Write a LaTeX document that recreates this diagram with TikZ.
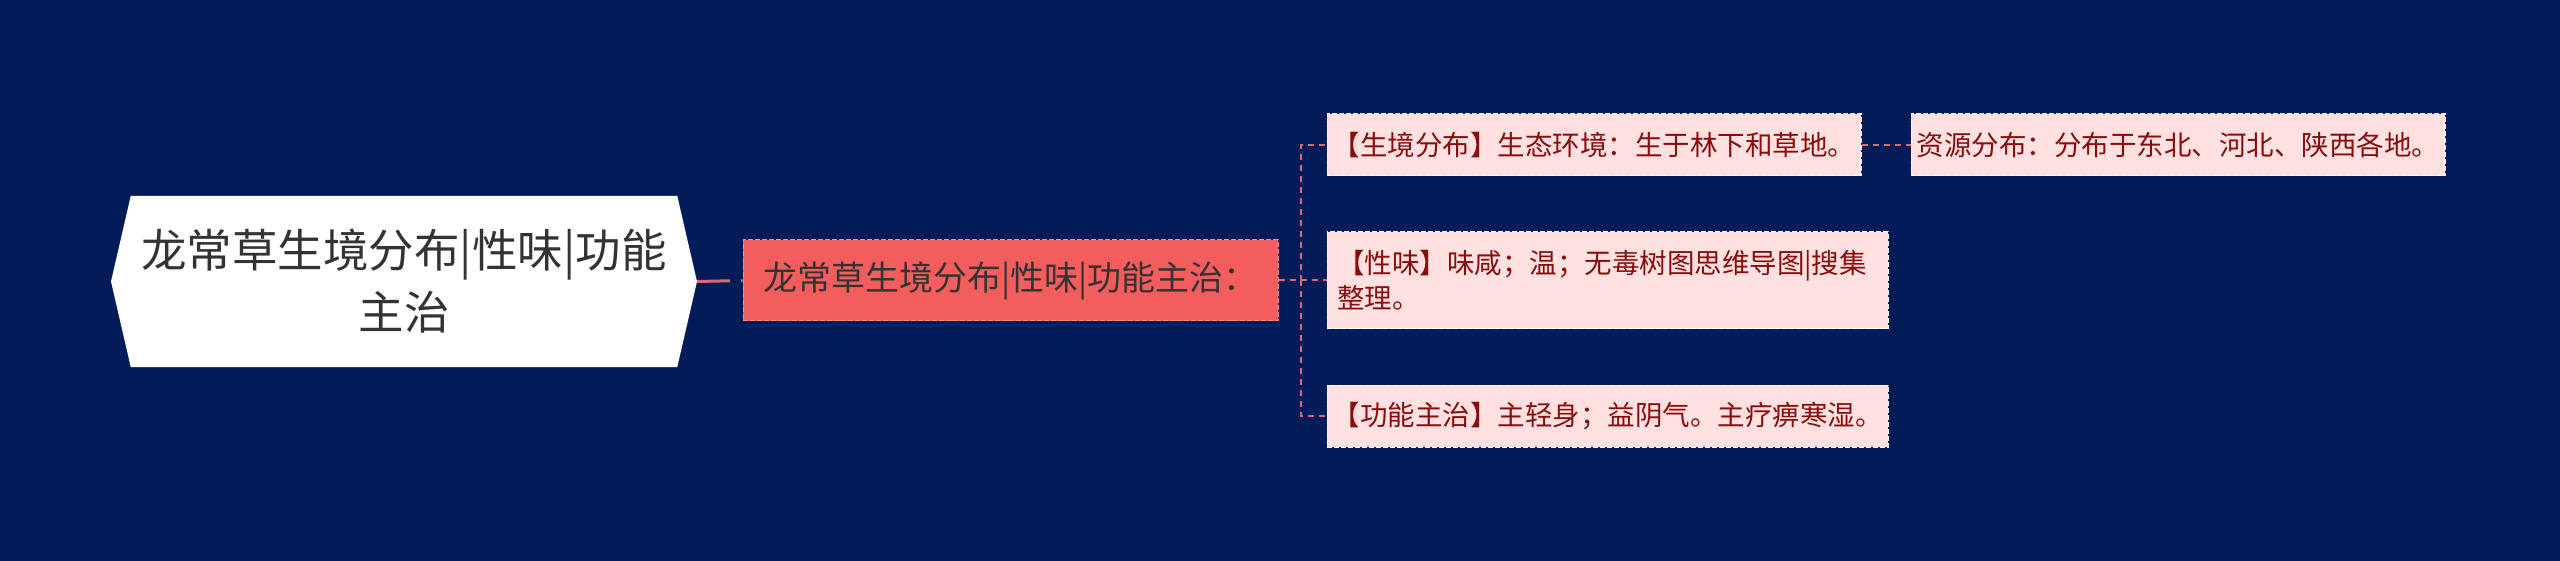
\documentclass[tikz,border=0pt]{standalone}
\usepackage{fontspec}
\newfontfamily\cjk{Noto Sans CJK SC}
\usepackage{tikz}
\usetikzlibrary{calc, positioning, shapes.symbols}
\definecolor{navy}{HTML}{021C59}
\definecolor{midfill}{HTML}{F45D5E}
\definecolor{leaffill}{HTML}{FFE1E1}
\definecolor{linkred}{HTML}{E3656F}
\definecolor{leaftext}{HTML}{8A0C0C}

\begin{document}
\begin{tikzpicture}[x=1pt, y=-1pt,
    rootbox/.style={shape=signal, signal to=east and west, signal pointer angle=154,
      fill=white, minimum width=586pt, minimum height=171pt, inner sep=0pt,
      align=center, text=black!80, font=\cjk\fontsize{45.5}{62}\selectfont},
    midbox/.style={fill=midfill, draw=midfill!70!white, dash pattern=on 5pt off 2pt,
      line width=1pt, minimum width=535pt, minimum height=81pt, inner xsep=4pt,
      text=black!80, font=\cjk\fontsize{34}{40}\selectfont},
    leafbox/.style={fill=leaffill, draw=white, dash pattern=on 5pt off 2pt,
      line width=1pt, minimum width=534pt, minimum height=62pt, inner xsep=4pt,
      text=leaftext, font=\cjk\fontsize{27.5}{35}\selectfont},
    link/.style={linkred, line width=2pt, dash pattern=on 6pt off 5pt},
    rootlink/.style={linkred, line width=3pt, dash pattern=on 33pt off 11pt on 40pt off 5pt}]
  % background and frame of the page
  \fill[navy] (0,0) rectangle (2560,561);
  % main topic and first level
  \node[rootbox] (root) at (404,281.5) {龙常草生境分布|性味|功能\\主治};
  \node[midbox] (mid) at (1010.5,280.5) {龙常草生境分布|性味|功能主治：};
  % second level
  \node[leafbox] (habitat) at (1594,145) {【生境分布】生态环境：生于林下和草地。};
  \node[leafbox, minimum width=561pt, minimum height=97pt, inner xsep=10pt,
    text width=541pt, align=left] (taste) at (1607.5,280.5) {【性味】味咸；温；无毒树图思维导图|搜集\\整理。};
  \node[leafbox, minimum width=561pt] (usage) at (1607.5,416) {【功能主治】主轻身；益阴气。主疗痹寒湿。};
  \node[leafbox] (source) at (2178,145) {资源分布：分布于东北、河北、陕西各地。};
  % connectors
  \coordinate (spine) at (1301,280.5);
  \draw[rootlink] (root.east) -- (mid.west);
  \foreach \c in {habitat, taste, usage}
    \draw[link] (mid.east) -- (spine) |- (\c.west);
  \draw[link] (habitat.east) -- (source.west);
\end{tikzpicture}
\end{document}
